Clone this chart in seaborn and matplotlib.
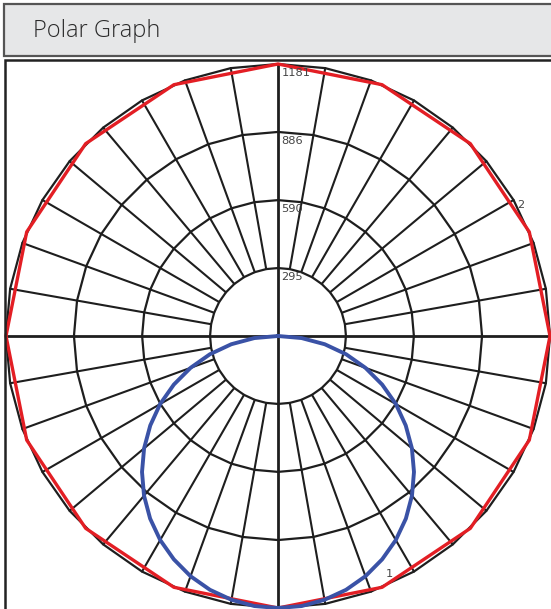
import numpy as np
import pandas as pd
import matplotlib
matplotlib.use("Agg")
import matplotlib.pyplot as plt
from matplotlib.patches import Rectangle
import seaborn as sns

sns.set_style("white")
plt.rcParams['font.family'] = ['DejaVu Sans']

# ---- data ----
ring_values = [295, 590, 886, 1181]
ring_labels = ["295", "590", "886", "1181"]
grid_angles = list(range(0, 360, 10))          # degrees
axis_angles = [0, 90, 180, 270]

# series 2 (red) : angle from nadir (deg), intensity
red_angles = [0, 22.5, 45, 67.5, 90, 112.5, 135, 157.5, 180,
              202.5, 225, 247.5, 270, 292.5, 315, 337.5, 360]
red_values = [1181, 1181, 1181, 1181, 1181, 1181, 1181, 1181, 1181,
              1181, 1181, 1181, 1181, 1181, 1181, 1181, 1181]

# series 1 (blue)
blue_angles = [-90, -85, -80, -75, -70, -65, -60, -55, -50, -45, -40, -35, -30,
               -25, -20, -15, -10, -5, 0, 5, 10, 15, 20, 25, 30, 35, 40, 45,
               50, 55, 60, 65, 70, 75, 80, 85, 90]
blue_values = [0, 103, 206, 306, 404, 499, 591, 677, 759, 835, 905, 968, 1023,
               1070, 1110, 1141, 1163, 1177, 1181, 1177, 1163, 1141, 1110, 1070,
               1023, 968, 905, 835, 759, 677, 591, 499, 404, 306, 206, 103, 0]

series_labels = ["1", "2"]


def to_xy(angles, values):
    a = np.radians(np.asarray(angles, dtype=float))
    v = np.asarray(values, dtype=float)
    return v * np.sin(a), -v * np.cos(a)


W, H = 551, 609
fig = plt.figure(figsize=(W / 100, H / 100), dpi=100)
ax = fig.add_axes([0, 0, 1, 1])

cx, cy, R = 278, 336, 272
k = R / 1181.0
ax.set_xlim(-cx / k, (W - cx) / k)
ax.set_ylim(-(H - cy) / k, cy / k)
ax.axis("off")

gc = "#1e1e1e"
# rings (polygons through radial lines)
ring_ang = grid_angles + [360]
for rv in ring_values:
    x, y = to_xy(ring_ang, [rv] * len(ring_ang))
    ax.plot(x, y, color=gc, lw=1.6, zorder=2)
# radial lines
for a in grid_angles:
    if a in axis_angles:
        continue
    x, y = to_xy([a, a], [ring_values[0], ring_values[-1]])
    ax.plot(x, y, color=gc, lw=1.5, zorder=2)
for a in axis_angles:
    x, y = to_xy([a, a], [0, ring_values[-1]])
    ax.plot(x, y, color=gc, lw=2.0, zorder=2)

# ring labels
for rv, lab in zip(ring_values, ring_labels):
    ax.text(15, rv - 18, lab, ha="left", va="top", fontsize=8.2,
            color="#444444", zorder=6)

# series
rx, ry = to_xy(red_angles, red_values)
sns.lineplot(x=rx, y=ry, sort=False, estimator=None, color="#e31e24",
             lw=2.4, ax=ax, zorder=4)
bx, by = to_xy(blue_angles, blue_values)
sns.lineplot(x=bx, y=by, sort=False, estimator=None, color="#3a52a6",
             lw=2.8, ax=ax, zorder=5)

# series labels
ax.text((521 - cx) / k, (cy - 205) / k, series_labels[1], ha="center",
        va="center", fontsize=8.2, color="#444444", zorder=6)
ax.text((389 - cx) / k, (cy - 574) / k, series_labels[0], ha="center",
        va="center", fontsize=8.2, color="#444444", zorder=6)

# header box & frame (figure pixel coordinates)
fig.patches.append(Rectangle((3.5 / W, 1 - 56 / H), (W + 10) / W, 52.5 / H,
                             transform=fig.transFigure, facecolor="#e6e7e8",
                             edgecolor="#555555", lw=1.6, zorder=0))
fig.patches.append(Rectangle((4.5 / W, -0.05), (W + 10) / W, 1 - 60 / H + 0.05,
                             transform=fig.transFigure, facecolor="none",
                             edgecolor="#222222", lw=1.8, zorder=10))
fig.text(33 / W, 1 - 31 / H, "Polar Graph", ha="left", va="center",
         fontsize=17, color="#2a2a2a", family=["Open Sans", "DejaVu Sans"],
         fontweight="light")

fig.savefig("out.png", dpi=100)
